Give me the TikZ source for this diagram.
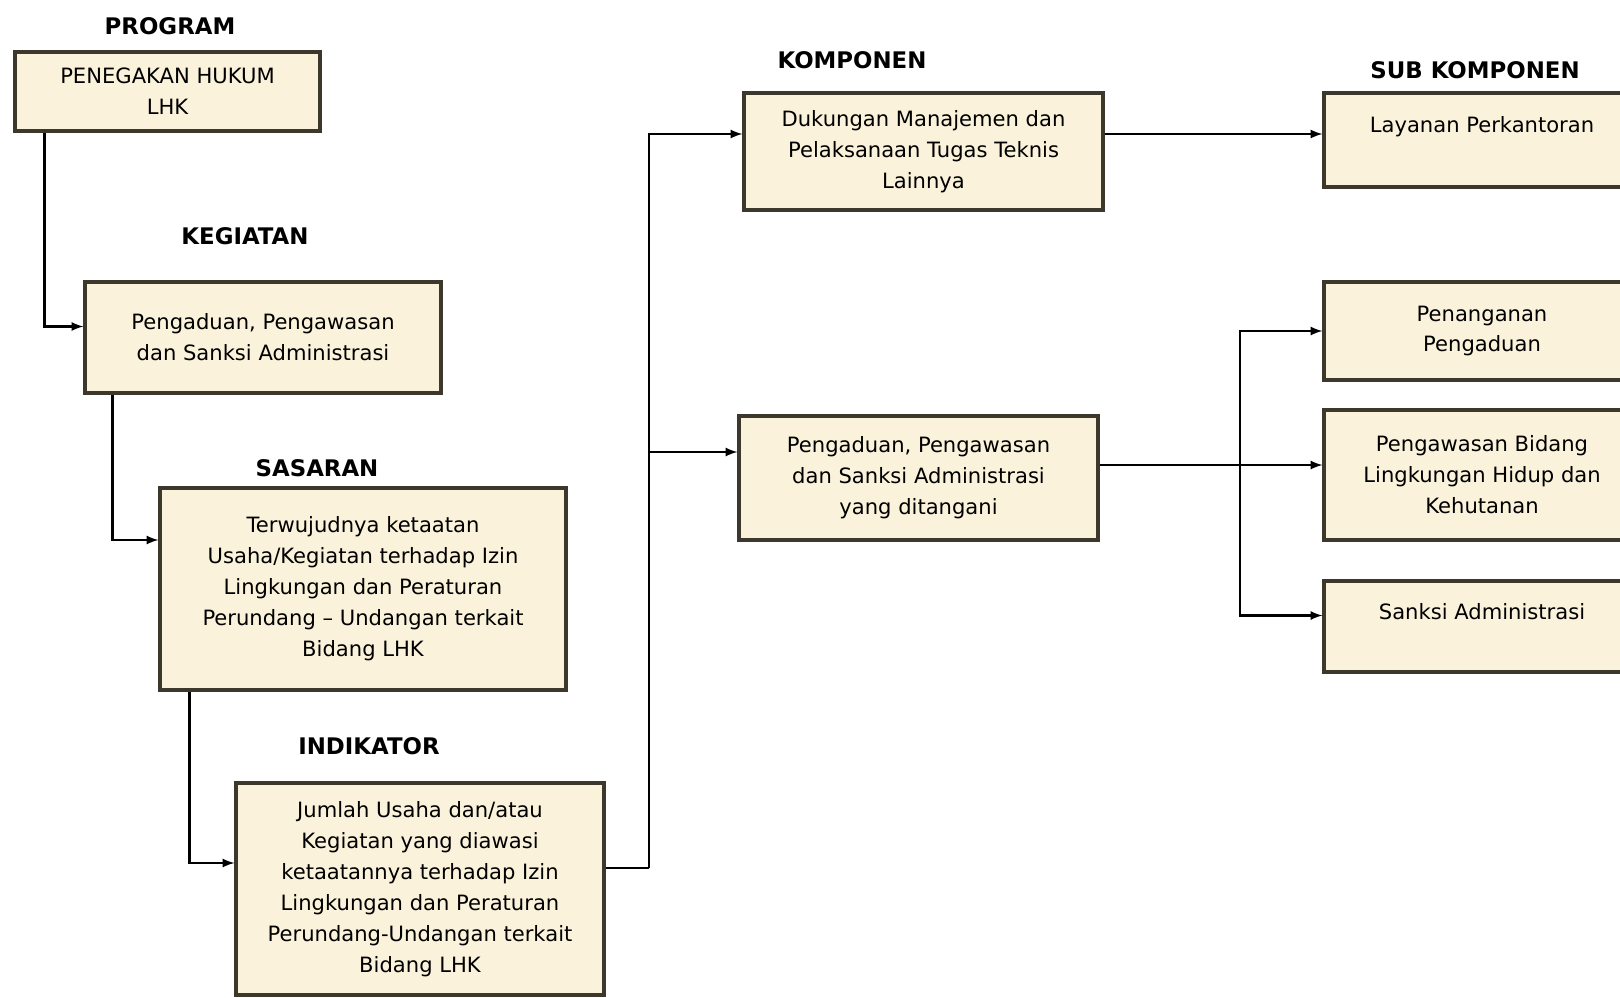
\documentclass[tikz,border=0pt]{standalone}
\usepackage{fontspec}
\setmainfont{DejaVu Sans}
\usetikzlibrary{positioning}
\definecolor{boxfill}{RGB}{250,242,218}
\definecolor{boxline}{RGB}{60,56,44}
\begin{document}
\begin{tikzpicture}[
        box/.style = {draw=boxline, line width=1.8pt, fill=boxfill, align=center, font=\fontsize{12}{17.6}\selectfont, inner sep=2pt},
        lbl/.style = {font=\fontsize{13}{15}\selectfont\bfseries},
        arr/.style = {-latex, line width=1.3pt},
        con/.style = {line width=1.3pt}
    ]
        \path[use as bounding box, clip] (0, 0) rectangle (32.4, -19.94);
        % left column
        \node[box, minimum width=6.1cm, minimum height=1.58cm] (prog) at (3.35, -1.83) {PENEGAKAN HUKUM\\LHK};
        \node[box, minimum width=7.12cm, minimum height=2.22cm] (keg) at (5.26, -6.75) {Pengaduan, Pengawasan\\dan Sanksi Administrasi};
        \node[box, minimum width=8.12cm, minimum height=4.04cm] (sas) at (7.26, -11.78) {Terwujudnya ketaatan\\Usaha/Kegiatan terhadap Izin\\Lingkungan dan Peraturan\\Perundang -- Undangan terkait\\Bidang LHK};
        \node[box, minimum width=7.36cm, minimum height=4.24cm] (ind) at (8.4, -17.78) {Jumlah Usaha dan/atau\\Kegiatan yang diawasi\\ketaatannya terhadap Izin\\Lingkungan dan Peraturan\\Perundang-Undangan terkait\\Bidang LHK};
        \node[lbl] (lprog) at (3.4, -0.52) {PROGRAM};
        \node[lbl] (lkeg) at (4.9, -4.72) {KEGIATAN};
        \node[lbl] (lsas) at (6.34, -9.36) {SASARAN};
        \node[lbl] (lind) at (7.38, -14.92) {INDIKATOR};
        % komponen
        \node[box, minimum width=7.18cm, minimum height=2.34cm] (komp1) at (18.47, -3.03) {Dukungan Manajemen dan\\Pelaksanaan Tugas Teknis\\Lainnya};
        \node[box, minimum width=7.18cm, minimum height=2.48cm] (komp2) at (18.37, -9.56) {Pengaduan, Pengawasan\\dan Sanksi Administrasi\\yang ditangani};
        \node[lbl] (lkomp) at (17.04, -1.2) {KOMPONEN};
        % sub komponen
        \node[box, minimum width=6.32cm, minimum height=1.88cm] (lay) at (29.64, -2.8) {Layanan Perkantoran\\\mbox{}};
        \node[box, minimum width=6.32cm, minimum height=1.96cm] (pen) at (29.64, -6.62) {Penanganan\\Pengaduan};
        \node[box, minimum width=6.32cm, minimum height=2.6cm] (peng) at (29.64, -9.5) {Pengawasan Bidang\\Lingkungan Hidup dan\\Kehutanan};
        \node[box, minimum width=6.32cm, minimum height=1.82cm] (sank) at (29.64, -12.53) {Sanksi Administrasi\\\mbox{}};
        \node[lbl] (lsub) at (29.5, -1.4) {SUB KOMPONEN};
        % connectors
        \draw[arr] ([xshift=0.62cm]prog.south west) |- ([yshift=0.22cm]keg.west);
        \draw[arr] ([xshift=0.58cm]keg.south west) |- ([yshift=0.98cm]sas.west);
        \draw[arr] ([xshift=0.62cm]sas.south west) |- ([yshift=0.52cm]ind.west);
        \coordinate (jn) at (12.98, -17.36);
        \draw[con] ([yshift=0.42cm]ind.east) -- (jn);
        \draw[arr] (jn) |- ([yshift=0.35cm]komp1.west);
        \draw[arr] (jn) |- ([yshift=0.52cm]komp2.west);
        \draw[arr] ([yshift=0.35cm]komp1.east) -- ([yshift=0.35cm]komp1.east -| lay.west);
        \coordinate (sp) at (24.8, -9.3);
        \draw[con] ([yshift=0.26cm]komp2.east) -- (sp);
        \draw[arr] (sp) |- (pen.west);
        \draw[arr] (sp) -- (sp -| peng.west);
        \draw[arr] (sp) |- ([yshift=0.22cm]sank.west);
    \end{tikzpicture}
\end{document}
